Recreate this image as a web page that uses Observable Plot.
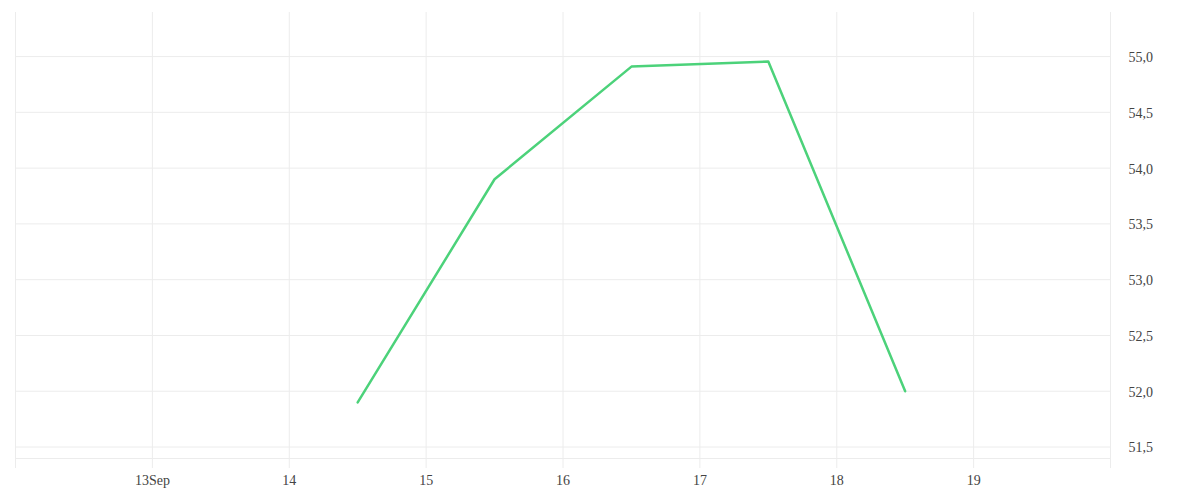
<!DOCTYPE html>
<html><head><meta charset="utf-8">
<script src="https://cdn.jsdelivr.net/npm/d3@7"></script>
<script src="https://cdn.jsdelivr.net/npm/@observablehq/plot@0.6"></script>
<style>
body{margin:0;background:#fff;}
#chart svg{display:block;}
</style>
</head><body><div id="chart"></div>
<script>
const dates = ["2023-09-14T12:00Z","2023-09-15T12:00Z","2023-09-16T12:00Z","2023-09-17T12:00Z","2023-09-18T12:00Z"];
const values = [51.9, 53.9, 54.91, 54.955, 52.0];
const xTicks = ["2023-09-12","2023-09-13","2023-09-14","2023-09-15","2023-09-16","2023-09-17","2023-09-18","2023-09-19","2023-09-20"];
const xLabels = ["","13Sep","14","15","16","17","18","19",""];
const yTicks = [51.5, 52.0, 52.5, 53.0, 53.5, 54.0, 54.5, 55.0];
const yBottom = 51.397;

const data = dates.map((d,i)=>({date:new Date(d), value:values[i]}));
const xt = xTicks.map(d=>new Date(d+"T00:00Z"));
const fmtY = v => v.toFixed(1).replace(".", ",");
const gridColor = "#ececec";
const font = "Liberation Serif, serif";
const textColor = "#444";

const chart = Plot.plot({
  width: 1200, height: 500,
  marginLeft: 15, marginRight: 90, marginTop: 12, marginBottom: 42,
  style: {fontFamily: font, fontSize: "14px", color: textColor, background: "#fff"},
  x: {type: "utc", domain: [xt[0], xt[xt.length-1]], axis: null},
  y: {domain: [yBottom, 55.395], axis: null},
  marks: [
    Plot.ruleY(yTicks, {stroke: gridColor, strokeWidth: 1}),
    Plot.ruleY([yBottom], {stroke: gridColor, strokeWidth: 1}),
    Plot.ruleX(xt, {stroke: gridColor, strokeWidth: 1, insetBottom: -10}),
    Plot.text(xt.map((d,i)=>({d, l:xLabels[i]})).filter(o=>o.l), {x:"d", text:"l", frameAnchor:"bottom", dy: 26, fill: textColor, fontFamily: font, fontSize: 14}),
    Plot.text(yTicks, {y: d=>d, text: fmtY, frameAnchor:"right", textAnchor:"start", dx: 18, dy: 1, fill: textColor, fontFamily: font, fontSize: 14}),
    Plot.line(data, {x:"date", y:"value", stroke:"#4cd27a", strokeWidth: 2.5, curve:"linear"})
  ]
});
document.getElementById("chart").appendChild(chart);
</script>
</body></html>
